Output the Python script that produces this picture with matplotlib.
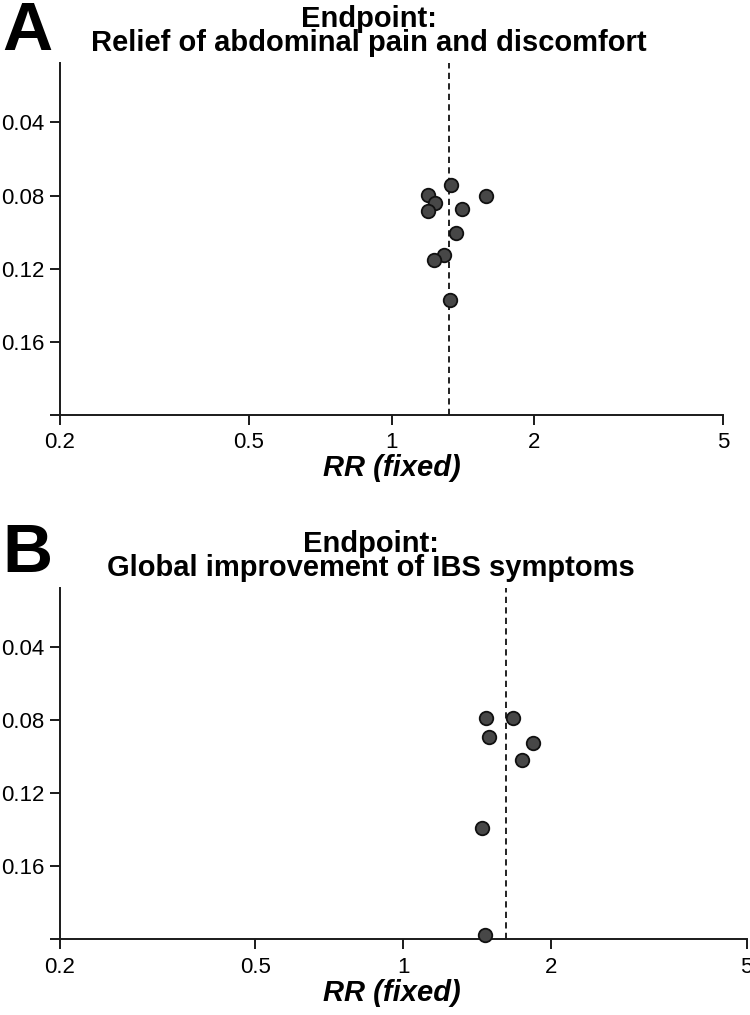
import matplotlib
matplotlib.use('Agg')
import matplotlib.pyplot as plt

plt.rcParams['font.family'] = ['Liberation Sans', 'DejaVu Sans']

# Data
panel_letters = ['A', 'B']
title_line1 = ['Endpoint:', 'Endpoint:']
title_line2 = ['Relief of abdominal pain and discomfort',
               'Global improvement of IBS symptoms']
rr_a = [1.335, 1.196, 1.582, 1.233, 1.192, 1.406, 1.370, 1.292, 1.229, 1.327]
se_a = [0.0745, 0.0797, 0.0805, 0.0841, 0.0882, 0.0874, 0.1004, 0.1124, 0.1153, 0.1369]
pooled_a = 1.32
rr_b = [1.475, 1.672, 1.492, 1.834, 1.746, 1.447, 1.464]
se_b = [0.0789, 0.0785, 0.0891, 0.0924, 0.1020, 0.1391, 0.1978]
pooled_b = 1.615
xticks = [0.2, 0.5, 1, 2, 5]
xticklabels = ['0.2', '0.5', '1', '2', '5']
yticks = [0.04, 0.08, 0.12, 0.16, 0.2]
yticklabels = ['0.04', '0.08', '0.12', '0.16', '']

W, H = 750, 1015
fig = plt.figure(figsize=(W / 100, H / 100), dpi=100)

def px_axes(l, t, r, b):
    return fig.add_axes([l / W, 1 - b / H, (r - l) / W, (b - t) / H])

ax_a = px_axes(60, 63.3, 723, 415)
ax_b = px_axes(60, 588.3, 746.7, 939.3)

def style(ax, rr, se, pooled, label_x):
    ax.axvline(pooled, color='#222222', lw=1.4, ls=(0, (3.2, 2.2)), zorder=1)
    ax.scatter(rr, se, s=95, facecolor='#474747', edgecolor='#111111',
               linewidth=1.3, zorder=3, clip_on=False)
    ax.set_xscale('log')
    ax.set_xlim(0.2, 5)
    ax.set_ylim(0.2, 0.0077)
    ax.set_xticks(xticks)
    ax.set_xticklabels(xticklabels)
    ax.minorticks_off()
    ax.set_yticks(yticks)
    ax.set_yticklabels(yticklabels)
    for s in ['top', 'right']:
        ax.spines[s].set_visible(False)
    for s in ['left', 'bottom']:
        ax.spines[s].set_linewidth(1.4)
        ax.spines[s].set_color('#1a1a1a')
    ax.tick_params(axis='both', length=7.5, width=1.4, color='#1a1a1a',
                   labelsize=16, pad=3.5)
    ax.tick_params(axis='x', pad=5)
    ax.set_xlabel('RR (fixed)', fontsize=21, fontweight='bold', style='italic')
    ax.xaxis.set_label_coords(label_x, -0.112)

style(ax_a, rr_a, se_a, pooled_a, (391.5 - 60) / 663)
style(ax_b, rr_b, se_b, pooled_b, (391.5 - 60) / 686.7)

title_cfg = [(369, 27, 51), (371, 552, 576)]
for i, (cx, b1, b2) in enumerate(title_cfg):
    fig.text(cx / W, 1 - b1 / H, title_line1[i], ha='center', va='baseline',
             fontsize=21, fontweight='bold')
    fig.text(cx / W, 1 - b2 / H, title_line2[i], ha='center', va='baseline',
             fontsize=21, fontweight='bold')

letter_cfg = [(2, 50), (2, 572)]
for i, (lx, lb) in enumerate(letter_cfg):
    fig.text(lx / W, 1 - lb / H, panel_letters[i], ha='left', va='baseline',
             fontsize=50, fontweight='bold')

fig.savefig('out.png', dpi=100)
